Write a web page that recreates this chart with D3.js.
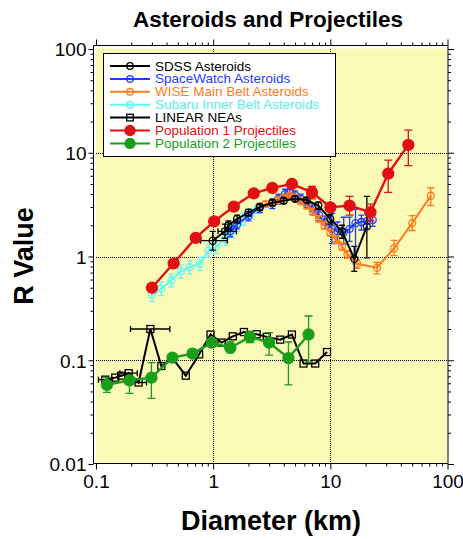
<!DOCTYPE html>
<html>
<head>
<meta charset="utf-8">
<script src="https://cdn.jsdelivr.net/npm/d3@7"></script>
<style>
  body { margin: 0; background: #fff; }
  text { font-family: "Liberation Sans", Arial, sans-serif; }
</style>
</head>
<body>
<div id="chart"></div>
<script>
// ---- data (diameter in km, R value) ----
var sdssD  = [0.99, 1.26, 1.35, 1.6, 2.0, 2.5, 3.2, 4.0, 5.0, 6.3, 7.9, 10, 12.6, 16, 20.5];
var sdssR  = [1.42, 1.75, 2.0, 2.3, 2.65, 3.0, 3.3, 3.45, 3.6, 3.5, 3.1, 2.3, 1.75, 0.95, 1.95];
var sdssLo = [1.15, 1.5, 1.8, 2.1, 2.45, 2.8, 3.1, 3.25, 3.4, 3.3, 2.85, 2.05, 1.5, 0.72, 0.97];
var sdssHi = [1.75, 2.05, 2.2, 2.5, 2.85, 3.2, 3.5, 3.65, 3.8, 3.7, 3.35, 2.55, 2.0, 1.25, 3.8];
var sdssXLo = [0.78, 1.1, null, null, null, null, null, null, null, null, null, null, null, null, null];
var sdssXHi = [1.32, 1.58, null, null, null, null, null, null, null, null, null, null, null, null, null];

var swD  = [1.4, 1.6, 2.0, 2.5, 3.2, 3.6, 4.1, 4.5, 5.0, 5.6, 6.3, 7.1, 8.0, 9.0, 10.3, 11.5, 13, 14.6, 16.4, 18.4, 20.6, 23];
var swR  = [1.75, 2.05, 2.45, 2.95, 3.25, 3.6, 4.0, 4.1, 3.9, 3.6, 3.3, 2.9, 2.5, 2.15, 1.85, 1.75, 1.7, 1.85, 2.1, 2.15, 2.2, 2.25];
var swLo = [1.55, 1.85, 2.2, 2.65, 2.9, 3.2, 3.6, 3.7, 3.5, 3.2, 2.95, 2.55, 2.2, 1.85, 1.33, 1.4, 1.32, 1.4, 0.85, 1.8, 1.85, 1.95];
var swHi = [1.95, 2.25, 2.7, 3.25, 3.6, 4.0, 4.45, 4.55, 4.3, 4.0, 3.65, 3.25, 2.8, 2.45, 2.6, 2.15, 2.39, 2.4, 2.87, 2.5, 2.6, 2.6];

var wiseD  = [2.5, 2.8, 3.2, 3.6, 4.0, 4.5, 5.0, 5.6, 6.3, 7.1, 8.0, 8.9, 10, 11.2, 12.6, 14, 16.9, 25, 35, 50, 72];
var wiseR  = [3.0, 3.2, 3.3, 3.5, 3.7, 3.85, 3.7, 3.4, 3.1, 2.7, 2.3, 2.0, 1.7, 1.45, 1.25, 1.05, 0.85, 0.78, 1.2, 2.1, 3.85];
var wiseLo = [2.8, 3.0, 3.1, 3.3, 3.5, 3.65, 3.5, 3.2, 2.9, 2.5, 2.15, 1.85, 1.58, 1.33, 1.15, 0.96, 0.77, 0.68, 1.02, 1.78, 3.1];
var wiseHi = [3.2, 3.4, 3.5, 3.7, 3.9, 4.05, 3.9, 3.6, 3.3, 2.9, 2.45, 2.15, 1.82, 1.57, 1.35, 1.14, 0.93, 0.88, 1.43, 2.48, 4.6];

var subD  = [0.30, 0.36, 0.44, 0.53, 0.63, 0.77, 0.91, 1.05, 1.26, 1.45, 1.6, 1.8, 2.1, 2.4];
var subR  = [0.43, 0.49, 0.59, 0.72, 0.79, 0.85, 1.14, 1.23, 1.48, 1.75, 2.0, 2.3, 2.6, 2.9];
var subLo = [0.37, 0.42, 0.51, 0.62, 0.68, 0.73, 0.98, 1.06, 1.28, 1.52, 1.75, 2.0, 2.3, 2.6];
var subHi = [0.50, 0.57, 0.68, 0.83, 0.91, 0.98, 1.31, 1.42, 1.7, 2.0, 2.3, 2.6, 2.9, 3.2];

var linD  = [0.12, 0.146, 0.164, 0.19, 0.231, 0.291, 0.361, 0.45, 0.584, 0.759, 0.95, 1.18, 1.47, 1.83, 2.35, 2.87, 3.73, 4.7, 5.9, 7.43, 9.37];
var linR  = [0.065, 0.068, 0.071, 0.075, 0.061, 0.200, 0.088, 0.105, 0.071, 0.114, 0.177, 0.148, 0.170, 0.187, 0.178, 0.168, 0.158, 0.177, 0.093, 0.093, 0.12];
var linXLo = [0.105, null, null, 0.16, 0.187, 0.197, null, null, null, null, null, null, null, null, null, null, null, null, null, null, null];
var linXHi = [0.138, null, null, 0.225, 0.27, 0.427, null, null, null, null, null, null, null, null, null, null, null, null, null, null, null];

var pop1D  = [0.30, 0.46, 0.71, 1.02, 1.50, 2.22, 3.2, 4.7, 6.97, 10, 14.6, 22, 31.2, 46.3];
var pop1R  = [0.50, 0.86, 1.51, 2.18, 3.03, 4.06, 4.58, 5.0, 4.15, 2.98, 3.09, 2.67, 6.3, 11.9];
var pop1Lo = [null, null, null, null, null, null, null, null, 3.6, null, 2.5, 2.2, 4.15, 7.5];
var pop1Hi = [null, null, null, null, null, null, null, null, 4.74, null, 3.8, 3.2, 8.5, 16.5];

var pop2D  = [0.124, 0.193, 0.297, 0.449, 0.666, 0.975, 1.40, 2.06, 3.0, 4.39, 6.52];
var pop2R  = [0.058, 0.064, 0.068, 0.106, 0.116, 0.148, 0.132, 0.168, 0.148, 0.105, 0.177];
var pop2Lo = [0.049, 0.048, 0.043, 0.098, 0.108, 0.138, 0.118, 0.148, 0.112, 0.058, 0.096];
var pop2Hi = [0.068, 0.070, 0.095, 0.114, 0.124, 0.158, 0.150, 0.190, 0.185, 0.150, 0.267];

var legendNames = ["SDSS Asteroids", "SpaceWatch Asteroids", "WISE Main Belt Asteroids",
  "Subaru Inner Belt Asteroids", "LINEAR NEAs", "Population 1 Projectiles", "Population 2 Projectiles"];
var xMajor = [0.1, 1, 10, 100];
var yMajor = [0.01, 0.1, 1, 10, 100];

// ---- layout ----
var W = 463, H = 539;
var svg = d3.select("#chart").append("svg").attr("width", W).attr("height", H);

var x = d3.scaleLog().domain([0.1, 100]).range([96, 447.5]);
var y = d3.scaleLog().domain([0.01, 100]).range([464, 49]);

// plot background
svg.append("rect")
  .attr("x", 96).attr("y", 48.5)
  .attr("width", 447.5 - 96).attr("height", 463 - 48.5)
  .style("fill", "#fafab6");

// minor tick values
function minors(lo, hi) {
  var out = [];
  for (var e = Math.log10(lo); e < Math.log10(hi); e++)
    for (var k = 2; k <= 9; k++) out.push(k * Math.pow(10, e));
  return out;
}
var fmt = function (d) { return d >= 1 ? d3.format("d")(d) : String(+d.toPrecision(1)); };

// dotted grid at the decades
var grid = svg.append("g");
grid.selectAll("line.gx").data([1, 10]).enter().append("line")
  .attr("x1", function (d) { return Math.round(x(d)) + 0.5; })
  .attr("x2", function (d) { return Math.round(x(d)) + 0.5; })
  .attr("y1", 49).attr("y2", 463)
  .style("stroke", "#000").style("stroke-dasharray", "1,1");
grid.selectAll("line.gy").data([0.1, 1, 10]).enter().append("line")
  .attr("y1", function (d) { return Math.round(y(d)) + 0.5; })
  .attr("y2", function (d) { return Math.round(y(d)) + 0.5; })
  .attr("x1", 96).attr("x2", 447.5)
  .style("stroke", "#000").style("stroke-dasharray", "1,1");

// axes: major and minor ticks on all four sides, ticks outward
function addAxis(axisFn, scale, tr, values, size, labels) {
  var g = svg.append("g").attr("transform", tr)
    .call(axisFn(scale).tickValues(values).tickSize(size).tickSizeOuter(0)
      .tickFormat(labels ? fmt : ""));
  g.select(".domain").remove();
  g.selectAll("text").style("font-size", "19px").style("fill", "#000");
  return g;
}
addAxis(d3.axisBottom, x, "translate(0,463.5)", xMajor, 6, true)
  .selectAll("text").attr("dy", 0).attr("y", 24);
addAxis(d3.axisBottom, x, "translate(0,463.5)", minors(0.1, 100), 3, false);
addAxis(d3.axisTop, x, "translate(0,45.5)", xMajor, 6, false);
addAxis(d3.axisTop, x, "translate(0,45.5)", minors(0.1, 100), 3, false);
addAxis(d3.axisLeft, y, "translate(93.5,0)", yMajor, 5, true)
  .selectAll("text").attr("x", -7).attr("dy", "0.36em");
addAxis(d3.axisLeft, y, "translate(93.5,0)", minors(0.01, 100), 3, false);
addAxis(d3.axisRight, y, "translate(448,0)", yMajor, 6, false);
addAxis(d3.axisRight, y, "translate(448,0)", minors(0.01, 100), 3, false);

// axis frame
svg.append("path")
  .attr("d", "M93.5,463.5V45.5H448V463.5H93.5")
  .style("fill", "none").style("stroke", "#000").style("stroke-width", 1);

// ---- series ----
function zip(D, R, lo, hi, xlo, xhi) {
  return D.map(function (d, i) {
    return {d: d, r: R[i], lo: lo ? lo[i] : null, hi: hi ? hi[i] : null,
      xlo: xlo ? xlo[i] : null, xhi: xhi ? xhi[i] : null};
  });
}
var line = d3.line().x(function (p) { return x(p.d); }).y(function (p) { return y(p.r); });

function drawSeries(data, color, marker, size, capW, lw) {
  var g = svg.append("g");
  g.append("path").datum(data).attr("d", line)
    .style("fill", "none").style("stroke", color).style("stroke-width", lw);
  // vertical error bars
  var ev = data.filter(function (p) { return p.lo != null; });
  g.selectAll("path.ev").data(ev).enter().append("path")
    .attr("d", function (p) {
      var cx = x(p.d), a = y(p.hi), b = y(p.lo);
      return "M" + (cx - capW) + "," + a + "H" + (cx + capW) + "M" + cx + "," + a + "V" + b +
        "M" + (cx - capW) + "," + b + "H" + (cx + capW);
    })
    .style("fill", "none").style("stroke", color).style("stroke-width", 1.3);
  // horizontal error bars
  var eh = data.filter(function (p) { return p.xlo != null; });
  g.selectAll("path.eh").data(eh).enter().append("path")
    .attr("d", function (p) {
      var cy = y(p.r), a = x(p.xlo), b = x(p.xhi);
      return "M" + a + "," + (cy - 3) + "V" + (cy + 3) + "M" + a + "," + cy + "H" + b +
        "M" + b + "," + (cy - 3) + "V" + (cy + 3);
    })
    .style("fill", "none").style("stroke", color).style("stroke-width", 1.3);
  drawMarkers(g, data.map(function (p) { return [x(p.d), y(p.r)]; }), color, marker, size);
}

function drawMarkers(g, pts, color, marker, size) {
  if (marker === "square") {
    g.selectAll("rect.m").data(pts).enter().append("rect")
      .attr("x", function (p) { return p[0] - size; }).attr("y", function (p) { return p[1] - size; })
      .attr("width", 2 * size).attr("height", 2 * size)
      .style("fill", "none").style("stroke", color).style("stroke-width", 1.3);
  } else {
    g.selectAll("circle.m").data(pts).enter().append("circle")
      .attr("cx", function (p) { return p[0]; }).attr("cy", function (p) { return p[1]; })
      .attr("r", size)
      .style("fill", marker === "filled" ? color : "none")
      .style("stroke", color).style("stroke-width", 1.3);
  }
}

var colors = ["#000000", "#1f3cff", "#ff7b1c", "#66f6f6", "#000000", "#e31010", "#1a9e1a"];

drawSeries(zip(subD, subR, subLo, subHi), colors[3], "open", 3.5, 3, 2);
drawSeries(zip(swD, swR, swLo, swHi), colors[1], "open", 3.5, 3, 2);
drawSeries(zip(wiseD, wiseR, wiseLo, wiseHi), colors[2], "open", 3.5, 3.5, 2);
drawSeries(zip(sdssD, sdssR, sdssLo, sdssHi, sdssXLo, sdssXHi), colors[0], "open", 3.5, 3, 2);
drawSeries(zip(linD, linR, null, null, linXLo, linXHi), colors[4], "square", 3.5, 3, 2);
drawSeries(zip(pop1D, pop1R, pop1Lo, pop1Hi), colors[5], "filled", 5.5, 4, 2.4);
drawSeries(zip(pop2D, pop2R, pop2Lo, pop2Hi), colors[6], "filled", 5.5, 4, 2.4);

// ---- legend ----
var leg = svg.append("g");
leg.append("rect").attr("x", 103.5).attr("y", 53.5).attr("width", 232).attr("height", 103)
  .style("fill", "#fff").style("stroke", "#000").style("stroke-width", 1);
var markers = ["open", "open", "open", "open", "square", "filled", "filled"];
legendNames.forEach(function (name, i) {
  var ly = 66 + i * 12.9;
  leg.append("line").attr("x1", 110).attr("x2", 150).attr("y1", ly).attr("y2", ly)
    .style("stroke", colors[i]).style("stroke-width", 2);
  drawMarkers(leg.append("g"), [[130, ly]], colors[i], markers[i], markers[i] === "filled" ? 5 : 3.3);
  leg.append("text").attr("x", 155).attr("y", ly + 4.5).text(name)
    .style("font-size", "13.5px").style("fill", colors[i] === "#66f6f6" ? "#55eeee" : colors[i]);
});

// ---- titles ----
svg.append("text").attr("x", 268).attr("y", 27).attr("text-anchor", "middle")
  .style("font-size", "22.5px").style("font-weight", "bold").text("Asteroids and Projectiles");
svg.append("text").attr("x", 271).attr("y", 530).attr("text-anchor", "middle")
  .style("font-size", "27px").style("font-weight", "bold").text("Diameter (km)");
svg.append("text").attr("transform", "translate(33,256) rotate(-90)").attr("text-anchor", "middle")
  .style("font-size", "27px").style("font-weight", "bold").text("R Value");
</script>
</body>
</html>
